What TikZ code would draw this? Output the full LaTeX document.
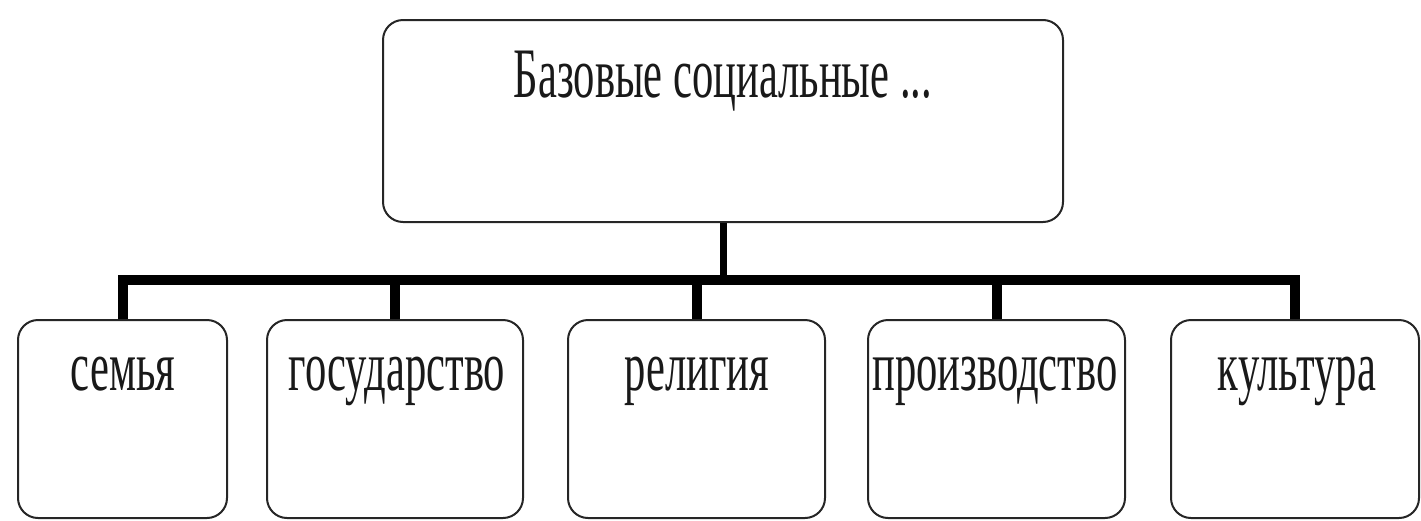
\documentclass[tikz,border=0pt]{standalone}
\usepackage{fontspec}
\setmainfont{Liberation Serif}
\tikzset{
  box/.style={draw=black!85, line width=2pt, rounded corners=20pt, fill=white, inner sep=0pt},
  lab/.style={anchor=base, inner sep=0pt, font=\fontsize{71}{80}\selectfont, text=black!90},
  bus/.style={line width=10pt, line join=miter, line cap=butt},
  stem/.style={line width=7pt}
}
\newcommand{\sq}[1]{\scalebox{0.6}[1]{#1}}
\begin{document}
\begin{tikzpicture}[x=1pt,y=-1pt]
\useasboundingbox (0,0) rectangle (1421,520);
\node[box, minimum width=680pt, minimum height=202pt] (top) at (723,121) {};
\node[lab] (toplab) at (723,97) {\sq{Базовые социальные ...}};
\node[box, minimum width=209pt, minimum height=198pt] (b1) at (122.5,419) {};
\node[box, minimum width=256pt, minimum height=198pt] (b2) at (395,419) {};
\node[box, minimum width=257pt, minimum height=198pt] (b3) at (696.5,419) {};
\node[box, minimum width=257pt, minimum height=198pt] (b4) at (996.5,419) {};
\node[box, minimum width=248pt, minimum height=198pt] (b5) at (1295,419) {};
\node[lab] (l1) at (123,390) {\sq{семья}};
\node[lab] (l2) at (397,390) {\sq{государство}};
\node[lab] (l3) at (697,390) {\sq{религия}};
\node[lab] (l4) at (995,390) {\sq{производство}};
\node[lab] (l5) at (1297,390) {\sq{культура}};
\coordinate (busy) at (0,280);
\draw[bus] (b1.north) -- (b1.north |- busy) -- (b5.north |- busy) -- (b5.north);
\foreach \b in {b2,b3,b4} \draw[bus] (\b.north) -- (\b.north |- busy);
\draw[stem] (top.south) -- (top.south |- busy);
\end{tikzpicture}
\end{document}
